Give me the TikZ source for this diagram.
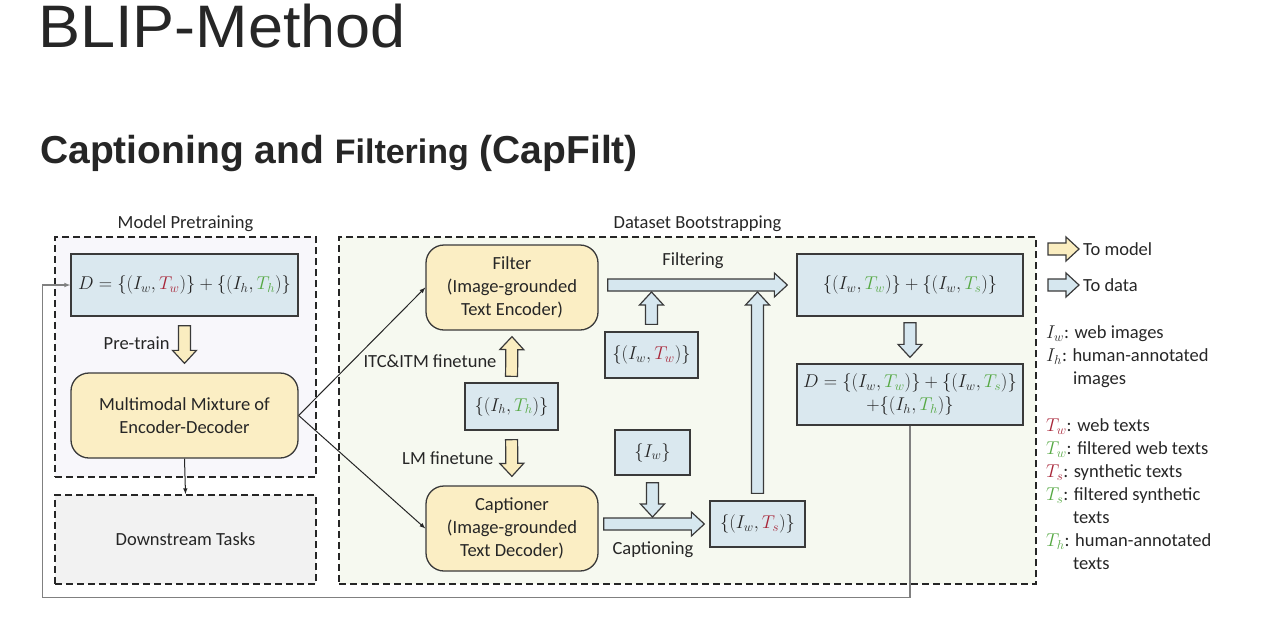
\RequirePackage{fix-cm}
\documentclass[tikz,border=0pt]{standalone}
\usepackage{fontspec}
\setmainfont{Carlito}
\newfontfamily\titlefont{Liberation Sans}
\usetikzlibrary{positioning,calc}

\definecolor{boxline}{HTML}{3A3A3A}
\definecolor{dataf}{HTML}{DAE8EF}
\definecolor{modelf}{HTML}{FBEEC4}
\definecolor{arrblue}{HTML}{D6E7EF}
\definecolor{arryel}{HTML}{FAEDC0}
\definecolor{pref}{HTML}{F8F7FB}
\definecolor{downf}{HTML}{F2F2F2}
\definecolor{bootf}{HTML}{F6F9F0}
\definecolor{tred}{HTML}{A82639}
\definecolor{tgreen}{HTML}{55A843}

\newcommand\Twr{{\color{tred}T_w}}
\newcommand\Tsr{{\color{tred}T_s}}
\newcommand\Twg{{\color{tgreen}T_w}}
\newcommand\Tsg{{\color{tgreen}T_s}}
\newcommand\Thg{{\color{tgreen}T_h}}

\tikzset{
  fatarrow/.pic={
    \draw[pic actions] (0pt,-6pt) -- ({#1-13pt},-6pt) -- ({#1-13pt},-12pt) -- (#1,0pt)
      -- ({#1-13pt},12pt) -- ({#1-13pt},6pt) -- (0pt,6pt) -- cycle;
  }
}
% block arrow between two anchors, #1 = gap at both ends
\newcommand\blockarrow[4][7pt]{%
  \path let \p1=($(#3)!#1!(#4)$), \p2=($(#4)!#1!(#3)$), \p3=($(\p2)-(\p1)$),
    \n1={veclen(\x3,\y3)}, \n2={atan2(\y3,\x3)} in
    (\p1) pic[draw=boxline, fill=#2, line width=1.2pt, rotate=\n2] {fatarrow={\n1}};
}

\begin{document}
\begin{tikzpicture}[x=1pt,y=-1pt,
    every node/.style={font=\fontsize{18.5}{23}\selectfont, text=black!85},
    frame/.style={draw=black!85, dash pattern=on 7pt off 4pt, line width=1.6pt},
    databox/.style={draw=boxline, fill=dataf, line width=1.3pt, align=center},
    modelbox/.style={draw=boxline, fill=modelf, line width=1.3pt, rounded corners=18pt, align=center},
    thinarrow/.style={-latex, line width=1pt, draw=black!85},
    legend/.style={anchor=west, align=left, inner sep=0pt},
  ]
  \useasboundingbox (0,0) rectangle (1280,643);

  % titles
  \node[anchor=base west, inner sep=0pt, xscale=1.05, font=\titlefont\fontsize{60}{62}\selectfont] (title) at (38,47) {BLIP-Method};
  \node[anchor=base west, inner sep=0pt, font=\titlefont\bfseries\fontsize{39}{44}\selectfont] (subtitle) at (40,163)
    {Captioning and {\fontsize{34}{40}\selectfont Filtering} (CapFilt)};

  % frames
  \node[frame, fill=pref, minimum width=261, minimum height=240] (pre) at (185.5,357) {};
  \node[frame, fill=downf, minimum width=261, minimum height=89] (down) at (185.5,539.5) {};
  \node[frame, fill=bootf, minimum width=697, minimum height=347] (boot) at (687.5,410.5) {};
  \node[above=1pt of pre] (prelabel) {Model Pretraining};
  \node[above=1pt of boot, xshift=10] (bootlabel) {Dataset Bootstrapping};
  \node (downtext) at (down) {Downstream Tasks};

  % model pretraining
  \node[databox, minimum width=227, minimum height=62] (D) at (184.5,285) {$D=\{(I_w,\Twr)\}+\{(I_h,\Thg)\}$};
  \node[modelbox, minimum width=227, minimum height=85] (MM) at (184.5,415.5) {Multimodal Mixture of\\Encoder-Decoder};
  \node[anchor=east] (pretrain) at (173,343) {Pre-train};

  % bootstrapping
  \node[modelbox, minimum width=172, minimum height=85] (Filter) at (512,287.5) {Filter\\(Image-grounded\\Text Encoder)};
  \node[modelbox, minimum width=172, minimum height=85] (Capt) at (512,528.5) {Captioner\\(Image-grounded\\Text Decoder)};
  \node[databox, minimum width=93, minimum height=47] (IhTh) at (511.5,406.5) {$\{(I_h,\Thg)\}$};
  \node[databox, minimum width=93, minimum height=46] (IwTw) at (651.5,355) {$\{(I_w,\Twr)\}$};
  \node[databox, minimum width=75, minimum height=45] (Iw) at (652.5,452.5) {$\{I_w\}$};
  \node[databox, minimum width=95, minimum height=46] (IwTs) at (757.5,524) {$\{(I_w,\Tsr)\}$};
  \node[databox, minimum width=226, minimum height=62] (R1) at (910,285) {$\{(I_w,\Twg)\}+\{(I_w,\Tsg)\}$};
  \node[databox, minimum width=226, minimum height=61, inner sep=1pt] (R2) at (910,394.5)
    {$D=\{(I_w,\Twg)\}+\{(I_w,\Tsg)\}$\\$+\{(I_h,\Thg)\}$};
  \node[anchor=east] (itc) at (500,361) {ITC\&ITM finetune};
  \node[anchor=east] (lm) at (497,458) {LM finetune};
  \node (filtering) at (693,261) {Filtering};
  \node (captioning) at (653,550) {Captioning};

  % legend
  \coordinate (ym1) at (1048,249);
  \coordinate (ym2) at (1079,249);
  \coordinate (bd1) at (1048,285);
  \coordinate (bd2) at (1079,285);
  \node[legend] (tomodel) at (1083,249) {To model};
  \node[legend] (todata) at (1083,285) {To data};
  \node[legend] (legI) at (1046,357) {$I_w$: web images\\$I_h$: human-annotated\\\hspace*{27pt}images};
  \node[legend] (legT) at (1046,494) {$\Twr$: web texts\\$\Twg$: filtered web texts\\$\Tsr$: synthetic texts\\$\Tsg$: filtered synthetic\\\hspace*{27pt}texts\\$\Thg$: human-annotated\\\hspace*{27pt}texts};

  % thin connectors
  \draw[thinarrow] (MM.east) -- (Filter.west);
  \draw[thinarrow] (MM.east) -- (Capt.west);
  \draw[thinarrow] (MM.south) -- (down.north);
  \draw[-latex, line width=1.1pt, draw=black!50] (R2.south) -- ++(0,172) -| ($(D.west)+(-28,0)$) -- (D.west);

  % block arrows
  \blockarrow[9pt]{arryel}{D.south}{MM.north}
  \blockarrow[6pt]{arryel}{IhTh.north}{Filter.south}
  \blockarrow[9pt]{arryel}{IhTh.south}{Capt.north}
  \blockarrow{arrblue}{IwTw.north}{IwTw.north |- R1.west}
  \blockarrow{arrblue}{IwTs.north}{IwTs.north |- R1.west}
  \blockarrow{arrblue}{Iw.south}{Iw.south |- IwTs.west}
  \blockarrow[5pt]{arrblue}{Capt.east |- IwTs.west}{IwTs.west}
  \blockarrow[9pt]{arrblue}{Filter.east |- R1.west}{R1.west}
  \blockarrow[6pt]{arrblue}{R1.south}{R2.north}
  \blockarrow[0pt]{arryel}{ym1}{ym2}
  \blockarrow[0pt]{arrblue}{bd1}{bd2}
\end{tikzpicture}
\end{document}
